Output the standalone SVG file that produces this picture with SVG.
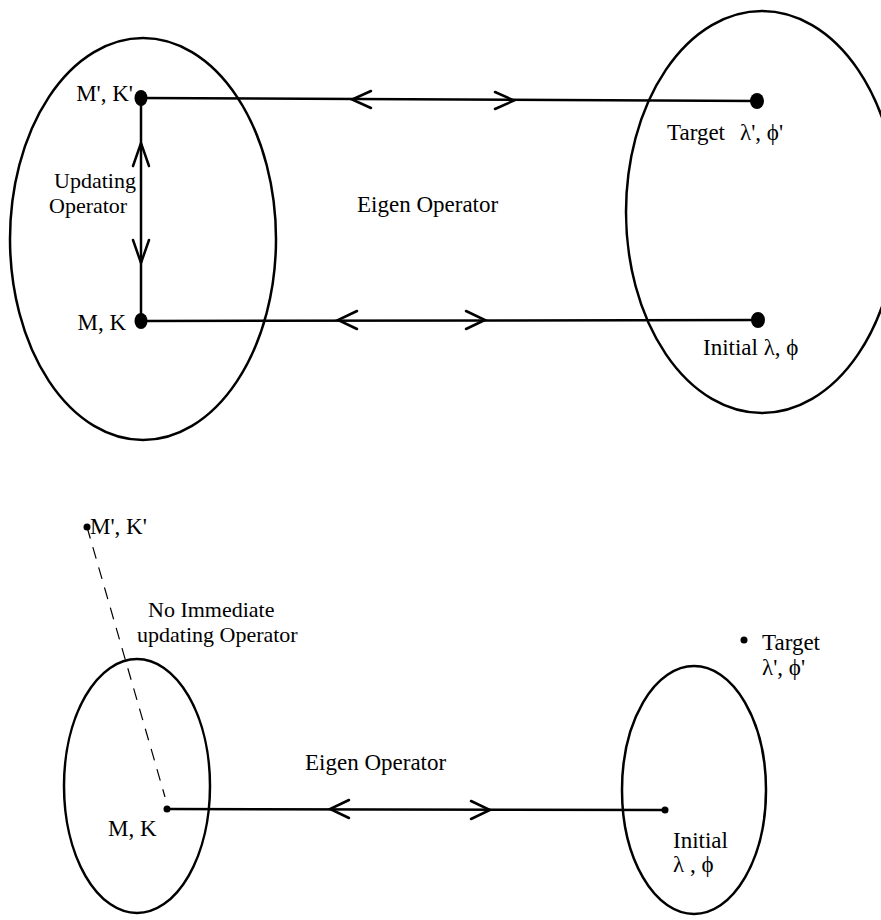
<svg xmlns="http://www.w3.org/2000/svg" width="881" height="920" viewBox="0 0 881 920">
<style>
.ell{fill:none;stroke:#000;stroke-width:2.5}
.ln{fill:none;stroke:#000;stroke-width:2.5}
.chev{fill:none;stroke:#000;stroke-width:2.5;stroke-linecap:round;stroke-linejoin:miter}
.dash{fill:none;stroke:#000;stroke-width:1.2;stroke-dasharray:12 9}
text{font-family:"Liberation Serif","Times New Roman","DejaVu Serif",serif;font-size:23px;fill:#000}
.two{font-size:22px}
</style>
<rect width="881" height="920" fill="#fff"/>
<g id="top-left-set">
  <ellipse class="ell" cx="143" cy="239" rx="133" ry="201"/>
</g>
<g id="top-right-set">
  <ellipse class="ell" cx="762" cy="212" rx="136" ry="201"/>
</g>
<g id="connectors">
  <line class="ln" x1="141" y1="98" x2="757" y2="101"/>
  <line class="ln" x1="141" y1="321" x2="758" y2="320"/>
  <line class="ln" x1="141" y1="98" x2="141" y2="321"/>
  <polyline class="chev" points="371,91 352,99.5 371,108"/>
  <polyline class="chev" points="495,92 514,100.5 495,109"/>
  <polyline class="chev" points="357,311 338,320 357,329"/>
  <polyline class="chev" points="466,311 485,320 466,329"/>
  <polyline class="chev" points="133,166 141,143 149,166"/>
  <polyline class="chev" points="133,240 141,263 149,240"/>
  <line class="ln" x1="167" y1="809" x2="665" y2="810"/>
  <polyline class="chev" points="349,800 330,809 349,818"/>
  <polyline class="chev" points="471,801 490,810 471,819"/>
  <line class="dash" x1="87" y1="527" x2="165" y2="797"/>
</g>
<g id="node-MpKp-top">
  <ellipse cx="141" cy="98" rx="6.5" ry="8"/>
  <text x="133" y="101" text-anchor="end">M', K'</text>
</g>
<g id="node-MK-top">
  <ellipse cx="141" cy="321" rx="6.5" ry="8"/>
  <text x="126" y="330" text-anchor="end">M, K</text>
</g>
<g id="label-updating">
  <text class="two" x="54" y="188">Updating</text>
  <text class="two" x="49" y="213">Operator</text>
</g>
<g id="label-eigen-top">
  <text x="357" y="212">Eigen Operator</text>
</g>
<g id="node-target-top">
  <ellipse cx="757" cy="101" rx="7" ry="8"/>
  <text x="667" y="140">Target</text>
  <text x="740" y="140">λ', ϕ'</text>
</g>
<g id="node-initial-top">
  <ellipse cx="758" cy="320" rx="7" ry="8"/>
  <text x="703" y="355">Initial λ, ϕ</text>
</g>
<g id="bottom-left-set">
  <ellipse class="ell" cx="137" cy="786" rx="73" ry="127"/>
</g>
<g id="bottom-right-set">
  <ellipse class="ell" cx="694" cy="790" rx="72" ry="124"/>
</g>
<g id="node-MpKp-bottom">
  <circle cx="87" cy="527" r="3.5"/>
  <text x="90" y="534">M', K'</text>
</g>
<g id="label-no-immediate">
  <text class="two" x="148" y="617">No Immediate</text>
  <text class="two" x="137" y="642">updating Operator</text>
</g>
<g id="node-MK-bottom">
  <circle cx="167" cy="809" r="3.5"/>
  <text x="108" y="836">M, K</text>
</g>
<g id="label-eigen-bottom">
  <text x="305" y="770">Eigen Operator</text>
</g>
<g id="node-target-bottom">
  <circle cx="744" cy="640" r="3.5"/>
  <text x="762" y="650">Target</text>
  <text x="762" y="675">λ', ϕ'</text>
</g>
<g id="node-initial-bottom">
  <circle cx="665" cy="810" r="3.5"/>
  <text x="673" y="848">Initial</text>
  <text x="673" y="872">λ , ϕ</text>
</g>
</svg>
